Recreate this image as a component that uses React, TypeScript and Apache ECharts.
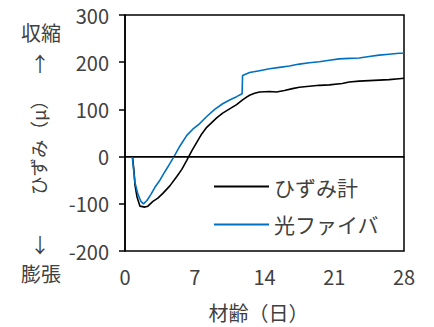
import React, { useEffect, useRef } from "react";
import * as echarts from "echarts";

const gaugeDays = [0.75, 0.9, 1.0, 1.2, 1.5, 2.0, 2.3, 2.8, 3.3, 3.8, 4.5, 5.2, 5.7, 6.2, 6.7, 7.2, 7.7, 8.2, 8.7, 9.2, 9.8, 10.5, 11.2, 11.8, 12.2, 12.5, 13.0, 13.5, 14.5, 15.2, 16.0, 16.8, 17.5, 18.5, 19.5, 20.5, 21.8, 22.5, 23.5, 24.5, 25.5, 26.5, 27.5, 28];
const gaugeValues = [0, -30, -60, -85, -105, -107, -105, -95, -88, -78, -62, -42, -27, -8, 12, 30, 48, 62, 72, 82, 92, 101, 110, 120, 126, 130, 134, 137, 138, 137, 140, 144, 147, 149, 151, 152, 155, 158, 160, 161, 162, 163, 165, 166];

const fiberDays = [0.73, 0.85, 1.0, 1.3, 1.6, 1.85, 2.2, 2.6, 3.0, 3.5, 4.0, 4.5, 5.0, 5.5, 6.2, 6.8, 7.5, 8.2, 9.0, 9.8, 10.5, 11.2, 11.75, 11.8, 12.5, 13.5, 14.5, 15.5, 16.5, 17.5, 18.5, 19.5, 20.5, 21.5, 22.5, 23.5, 24.5, 25.5, 26.5, 27.5, 28];
const fiberValues = [0, -25, -55, -80, -95, -100, -93, -80, -65, -50, -32, -15, 3, 22, 45, 58, 70, 85, 100, 112, 120, 127, 133, 172, 178, 182, 186, 189, 192, 196, 199, 201, 204, 207, 208, 209, 212, 215, 217, 219, 219];

const seriesNames = ["ひずみ計", "光ファイバ"];
const xTicks = { min: 0, max: 28, interval: 7 };
const yTicks = { min: -200, max: 300, interval: 100 };
const xTitle = "材齢（日）";
const yTitle = "ひずみ（μ）";
const topLabel = "収縮";
const bottomLabel = "膨張";

const FONT = "'Noto Sans CJK JP', 'Noto Sans', sans-serif";
const TXT = "#404040";
const FS = 20;

export default function App() {
  const ref = useRef<HTMLDivElement>(null);
  useEffect(() => {
    if (!ref.current) return;
    const chart = echarts.init(ref.current, undefined, { renderer: "svg" });
    const gauge = gaugeDays.map((d, i) => [d, gaugeValues[i]]);
    const fiber = fiberDays.map((d, i) => [d, fiberValues[i]]);
    const t = (text: string, x: number, y: number, extra: any = {}) => ({
      type: "text",
      x,
      y,
      ...extra,
      style: { text, fontSize: FS, fill: TXT, fontFamily: FONT, align: "center", verticalAlign: "middle", ...(extra.style || {}) },
    });
    chart.setOption({
      animation: false,
      textStyle: { fontFamily: FONT },
      grid: {
        left: 125,
        right: 30,
        top: 15,
        bottom: 74.5,
        show: true,
        borderColor: "#000",
        borderWidth: 1.5,
        backgroundColor: "transparent",
      },
      legend: {
        orient: "vertical",
        left: 213,
        top: 176,
        padding: 0,
        itemWidth: 55,
        itemHeight: 18,
        itemGap: 17,
        itemStyle: { opacity: 0 },
        textStyle: { fontSize: 21, color: TXT, fontFamily: FONT },
        data: seriesNames,
      },
      xAxis: {
        type: "value",
        min: xTicks.min,
        max: xTicks.max,
        interval: xTicks.interval,
        name: xTitle,
        nameLocation: "middle",
        nameGap: 51,
        nameTextStyle: { fontSize: FS, color: TXT, fontFamily: FONT, padding: [0, 12, 0, 0] },
        axisLine: { show: true, lineStyle: { color: "#000", width: 1.5 } },
        axisTick: { show: false },
        splitLine: { show: false },
        axisLabel: { fontSize: FS, color: TXT, margin: 15, fontFamily: FONT },
      },
      yAxis: {
        type: "value",
        min: yTicks.min,
        max: yTicks.max,
        interval: yTicks.interval,
        axisLine: { show: true, lineStyle: { color: "#000", width: 1.5 } },
        axisTick: { show: true, inside: false, length: 6, lineStyle: { color: "#000", width: 1.5 } },
        splitLine: { show: false },
        axisLabel: { fontSize: FS, color: TXT, margin: 16, fontFamily: FONT },
      },
      graphic: [
        t(topLabel, 41, 32),
        t("↑", 40, 63),
        t(yTitle, 38, 143, { rotation: Math.PI / 2, style: { fontSize: 18.5 } }),
        t("↓", 40, 244),
        t(bottomLabel, 41, 273),
      ],
      series: [
        {
          name: seriesNames[0],
          type: "line",
          data: gauge,
          showSymbol: false,
          symbol: "none",
          lineStyle: { color: "#000", width: 1.6 },
          itemStyle: { color: "#000" },
          z: 3,
          markLine: {
            silent: true,
            symbol: "none",
            label: { show: false },
            lineStyle: { color: "#000", width: 1, type: "solid" },
            data: [{ yAxis: 0 }],
          },
        },
        {
          name: seriesNames[1],
          type: "line",
          data: fiber,
          showSymbol: false,
          symbol: "none",
          lineStyle: { color: "#0070C0", width: 1.6 },
          itemStyle: { color: "#0070C0" },
          z: 4,
        },
      ],
    });
    return () => chart.dispose();
  }, []);
  return <div ref={ref} style={{ position: "absolute", left: 0, top: 0, width: 434, height: 327 }} />;
}
